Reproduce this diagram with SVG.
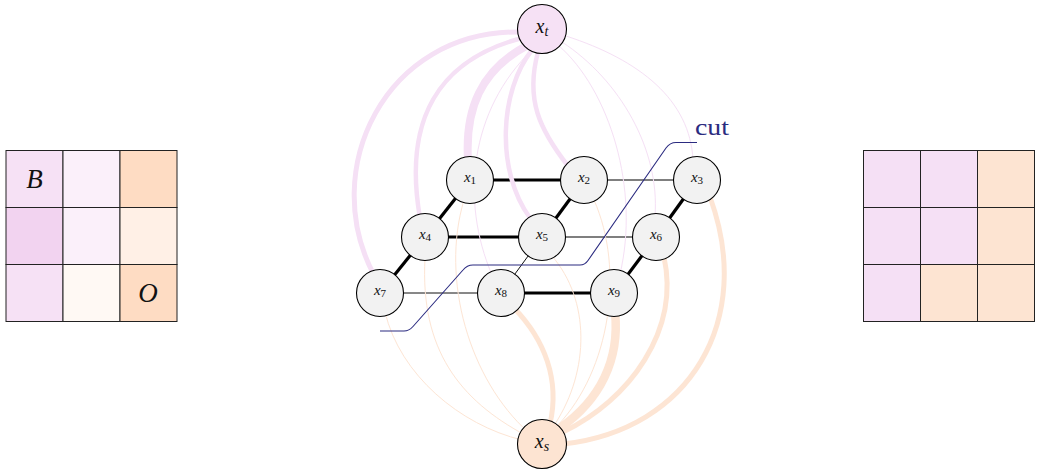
<svg xmlns="http://www.w3.org/2000/svg" width="1038" height="471" viewBox="0 0 1038 471">
<style>
.cell{stroke:#222;stroke-width:1}
.pk{fill:none;stroke:#f5e0f5;stroke-linecap:butt}
.pc{fill:none;stroke:#fde5d4;stroke-linecap:butt}
.thin{stroke-width:1}
.nd{fill:#f2f2f2;stroke:#000;stroke-width:1.1}
.lbl{font-family:"Liberation Serif",serif;fill:#111}
.gl{font-family:"Liberation Serif",serif;font-size:27px;font-style:italic;fill:#111}
.thick{stroke:#000;stroke-width:3.2}
</style>
<rect width="1038" height="471" fill="#fff"/>

<g id="grid-left">
<rect class="cell" x="6" y="150.5" width="57" height="57" fill="#f6e1f5"/>
<rect class="cell" x="63" y="150.5" width="57" height="57" fill="#fbf0fa"/>
<rect class="cell" x="120" y="150.5" width="57" height="57" fill="#fedcc3"/>
<rect class="cell" x="6" y="207.5" width="57" height="57" fill="#f2d3f0"/>
<rect class="cell" x="63" y="207.5" width="57" height="57" fill="#fbf0fa"/>
<rect class="cell" x="120" y="207.5" width="57" height="57" fill="#fff0e6"/>
<rect class="cell" x="6" y="264.5" width="57" height="57" fill="#f6e1f5"/>
<rect class="cell" x="63" y="264.5" width="57" height="57" fill="#fff9f4"/>
<rect class="cell" x="120" y="264.5" width="57" height="57" fill="#fedcc3"/>
<text class="gl" x="34.5" y="188" text-anchor="middle">B</text>
<text class="gl" x="148" y="302" text-anchor="middle">O</text>
</g>

<g id="grid-right">
<rect class="cell" x="863.5" y="150.5" width="57" height="57" fill="#f5e0f5"/>
<rect class="cell" x="920.5" y="150.5" width="57" height="57" fill="#f5e0f5"/>
<rect class="cell" x="977.5" y="150.5" width="57" height="57" fill="#fde4d2"/>
<rect class="cell" x="863.5" y="207.5" width="57" height="57" fill="#f5e0f5"/>
<rect class="cell" x="920.5" y="207.5" width="57" height="57" fill="#f5e0f5"/>
<rect class="cell" x="977.5" y="207.5" width="57" height="57" fill="#fde4d2"/>
<rect class="cell" x="863.5" y="264.5" width="57" height="57" fill="#f5e0f5"/>
<rect class="cell" x="920.5" y="264.5" width="57" height="57" fill="#fde4d2"/>
<rect class="cell" x="977.5" y="264.5" width="57" height="57" fill="#fde4d2"/>
</g>

<g id="connectors">
<g id="grid-edges">
<line class="thick" x1="470" y1="180" x2="584" y2="180"/>
<line x1="584" y1="180" x2="697" y2="180" stroke="#555" stroke-width="1.3"/>
<line class="thick" x1="470" y1="180" x2="425" y2="237"/>
<line class="thick" x1="584" y1="180" x2="542" y2="237"/>
<line class="thick" x1="697" y1="180" x2="656" y2="237"/>
<line class="thick" x1="425" y1="237" x2="542" y2="237"/>
<line x1="542" y1="237" x2="656" y2="237" stroke="#555" stroke-width="1.3"/>
<line class="thick" x1="425" y1="237" x2="380" y2="293"/>
<line x1="542" y1="237" x2="501" y2="293" stroke="#111" stroke-width="1"/>
<line class="thick" x1="656" y1="237" x2="614" y2="293"/>
<line x1="380" y1="293" x2="501" y2="293" stroke="#111" stroke-width="1"/>
<line class="thick" x1="501" y1="293" x2="614" y2="293"/>
</g>
<g id="sink-edges">
<path class="pk" stroke-width="5" d="M 520 32 C 385 30, 318 170, 374 275"/>
<path class="pk" stroke-width="4.5" d="M 522 38 C 438 60, 403 120, 420 218"/>
<path class="pk" stroke-width="8" d="M 528 45 C 480 70, 465 110, 468 160"/>
<path class="pk" stroke-width="4.5" d="M 532 50 C 500 90, 495 170, 530 218"/>
<path class="pk" stroke-width="4.5" d="M 538 52 C 525 100, 540 130, 568 166"/>
<path class="pk thin" d="M 532 50 C 470 110, 460 200, 492 275"/>
<path class="pk thin" d="M 558 45 C 610 90, 640 190, 620 274"/>
<path class="pk thin" d="M 562 42 C 620 80, 660 150, 655 216"/>
<path class="pk thin" d="M 566 36 C 640 60, 690 100, 693 160"/>
</g>
<g id="source-edges">
<path class="pc thin" d="M 522 440 C 460 425, 400 375, 385 312"/>
<path class="pc thin" d="M 525 435 C 460 400, 420 350, 425 258"/>
<path class="pc thin" d="M 528 432 C 470 380, 440 280, 464 200"/>
<path class="pc" stroke-width="5" d="M 550 424 C 560 380, 545 340, 514 308"/>
<path class="pc thin" d="M 555 424 C 590 370, 590 300, 552 256"/>
<path class="pc thin" d="M 558 425 C 610 370, 625 270, 594 200"/>
<path class="pc" stroke-width="8.5" d="M 560 428 C 600 400, 620 360, 615 312"/>
<path class="pc" stroke-width="5" d="M 563 432 C 630 400, 680 330, 664 257"/>
<path class="pc" stroke-width="5" d="M 563 444 C 690 430, 755 320, 710 197"/>
</g>
<g id="cut">
<path d="M 380 331 L 404 331 Q 409 331 413 326.5 L 463 270 Q 467 265 473 265 L 580 265 Q 585 265 588 260.5 L 666 148 Q 670 142.5 676 142.5 L 697 142.5" fill="none" stroke="#2b2b80" stroke-width="1.1"/>
<text x="695" y="135" font-family="Liberation Serif, serif" font-size="24" fill="#2b2b80" textLength="34" lengthAdjust="spacingAndGlyphs">cut</text>
</g>
</g>

<g id="node-xt"><circle class="nd" cx="542" cy="29" r="24.5" style="fill:#f6e1f5"/><text class="lbl" x="542" y="33" text-anchor="middle"><tspan font-size="20" font-style="italic">x</tspan><tspan font-size="14" font-style="italic" dy="3">t</tspan></text></g>
<g id="node-xs"><circle class="nd" cx="542" cy="444" r="24.5" style="fill:#fde4d2"/><text class="lbl" x="542" y="448" text-anchor="middle"><tspan font-size="20" font-style="italic">x</tspan><tspan font-size="14" font-style="italic" dy="3">s</tspan></text></g>
<g id="node-x1"><circle class="nd" cx="470" cy="180" r="23.5"/><text class="lbl" x="470" y="182" text-anchor="middle"><tspan font-size="15" font-style="italic">x</tspan><tspan font-size="11" dy="2">1</tspan></text></g>
<g id="node-x2"><circle class="nd" cx="584" cy="180" r="23.5"/><text class="lbl" x="584" y="182" text-anchor="middle"><tspan font-size="15" font-style="italic">x</tspan><tspan font-size="11" dy="2">2</tspan></text></g>
<g id="node-x3"><circle class="nd" cx="697" cy="180" r="23.5"/><text class="lbl" x="697" y="182" text-anchor="middle"><tspan font-size="15" font-style="italic">x</tspan><tspan font-size="11" dy="2">3</tspan></text></g>
<g id="node-x4"><circle class="nd" cx="425" cy="237" r="23.5"/><text class="lbl" x="425" y="239" text-anchor="middle"><tspan font-size="15" font-style="italic">x</tspan><tspan font-size="11" dy="2">4</tspan></text></g>
<g id="node-x5"><circle class="nd" cx="542" cy="237" r="23.5"/><text class="lbl" x="542" y="239" text-anchor="middle"><tspan font-size="15" font-style="italic">x</tspan><tspan font-size="11" dy="2">5</tspan></text></g>
<g id="node-x6"><circle class="nd" cx="656" cy="237" r="23.5"/><text class="lbl" x="656" y="239" text-anchor="middle"><tspan font-size="15" font-style="italic">x</tspan><tspan font-size="11" dy="2">6</tspan></text></g>
<g id="node-x7"><circle class="nd" cx="380" cy="293" r="23.5"/><text class="lbl" x="380" y="295" text-anchor="middle"><tspan font-size="15" font-style="italic">x</tspan><tspan font-size="11" dy="2">7</tspan></text></g>
<g id="node-x8"><circle class="nd" cx="501" cy="293" r="23.5"/><text class="lbl" x="501" y="295" text-anchor="middle"><tspan font-size="15" font-style="italic">x</tspan><tspan font-size="11" dy="2">8</tspan></text></g>
<g id="node-x9"><circle class="nd" cx="614" cy="293" r="23.5"/><text class="lbl" x="614" y="295" text-anchor="middle"><tspan font-size="15" font-style="italic">x</tspan><tspan font-size="11" dy="2">9</tspan></text></g>
</svg>
